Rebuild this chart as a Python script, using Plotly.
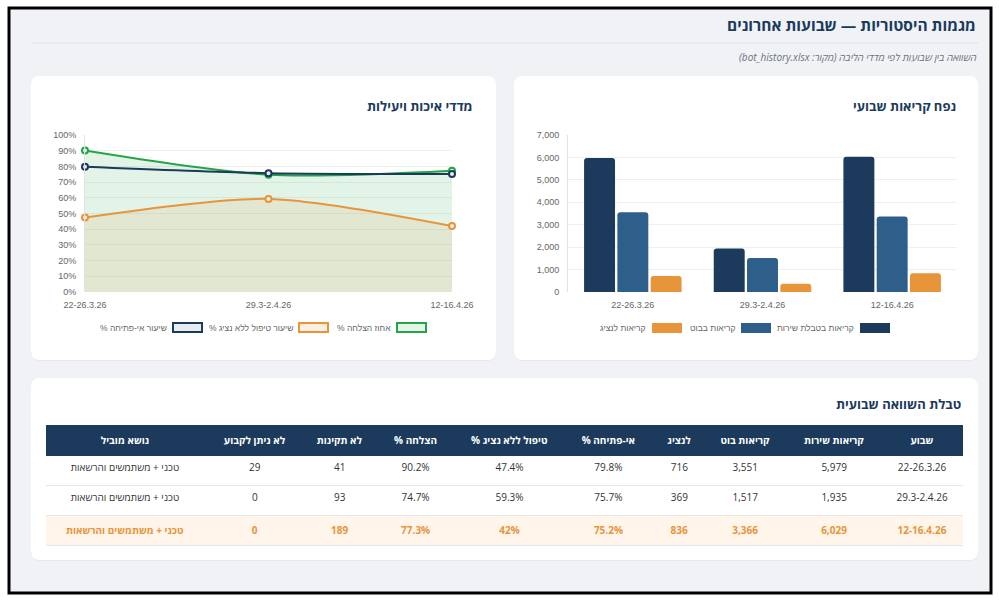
import plotly.graph_objects as go

W, H = 999, 603

# ---------------- data ----------------
weeks = ["22-26.3.26", "29.3-2.4.26", "12-16.4.26"]

success_pct = [90.2, 74.7, 77.3]          # אחוז הצלחה %
no_agent_pct = [47.4, 59.3, 42.0]         # שיעור טיפול ללא נציג %
no_open_pct = [79.8, 75.7, 75.2]          # שיעור אי-פתיחה %

service_calls = [5979, 1935, 6029]        # קריאות בטבלת שירות
bot_calls = [3551, 1517, 3366]            # קריאות בבוט
agent_calls = [716, 369, 836]             # קריאות לנציג

not_valid = [41, 93, 189]                 # לא תקינות
undetermined = [29, 0, 0]                 # לא ניתן לקבוע
lead_topic = ["טכני + משתמשים והרשאות"] * 3

line_names = ["אחוז הצלחה %", "שיעור טיפול ללא נציג %", "שיעור אי-פתיחה %"]
bar_names = ["קריאות בטבלת שירות", "קריאות בבוט", "קריאות לנציג"]
table_headers = ["שבוע", "קריאות שירות", "קריאות בוט", "לנציג", "אי-פתיחה %",
                 "טיפול ללא נציג %", "הצלחה %", "לא תקינות", "לא ניתן לקבוע", "נושא מוביל"]

NAVY = "#1b3a5c"
BLUE = "#2e5f8a"
ORANGE = "#e8943a"
GREEN = "#22a447"
FONT = "Open Sans, Liberation Sans, DejaVu Sans, sans-serif"
CHART_FONT = "Liberation Sans, Arial, sans-serif"


def rtl(s):
    return "\u202b" + s + "\u202c"


def px(x):
    return x / W


def py(y):
    return 1 - y / H


def rrect(x0, y0, x1, y1, r):
    pts = lambda x, y: f"{px(x):.5f},{py(y):.5f}"
    return (f"M {pts(x0 + r, y0)} L {pts(x1 - r, y0)} Q {pts(x1, y0)} {pts(x1, y0 + r)} "
            f"L {pts(x1, y1 - r)} Q {pts(x1, y1)} {pts(x1 - r, y1)} "
            f"L {pts(x0 + r, y1)} Q {pts(x0, y1)} {pts(x0, y1 - r)} "
            f"L {pts(x0, y0 + r)} Q {pts(x0, y0)} {pts(x0 + r, y0)} Z")


fig = go.Figure()

# ---------------- line chart ----------------
line_cfg = [
    (success_pct, GREEN, "rgba(34,164,71,0.13)", "tozeroy", "#e3f4e8"),
    (no_agent_pct, ORANGE, "rgba(232,148,58,0.12)", "tozeroy", "#fdf0e2"),
    (no_open_pct, NAVY, None, "none", "#e8ebf0"),
]
for (vals, col, fillc, fill, mfill), name in zip(line_cfg, line_names):
    fig.add_trace(go.Scatter(
        x=weeks, y=vals, name=name, mode="lines+markers",
        line=dict(color=col, width=2, shape="spline", smoothing=0.8),
        marker=dict(size=6, color=mfill, line=dict(color=col, width=2)),
        fill=fill, fillcolor=fillc, cliponaxis=False, showlegend=False,
        xaxis="x", yaxis="y", hoverinfo="skip"))

# ---------------- bar chart ----------------
for vals, col, name in zip([service_calls, bot_calls, agent_calls], [NAVY, BLUE, ORANGE], bar_names):
    fig.add_trace(go.Bar(x=weeks, y=vals, name=name, marker=dict(color=col, line=dict(width=0)),
                         showlegend=False, xaxis="x2", yaxis="y2", hoverinfo="skip"))

# ---------------- table ----------------
def fmt_int(v):
    return f"{v:,}"


def fmt_pct(v):
    s = f"{v:.1f}"
    if s.endswith(".0"):
        s = s[:-2]
    return s + "%"


cols_rtl = [
    weeks,
    [fmt_int(v) for v in service_calls],
    [fmt_int(v) for v in bot_calls],
    [fmt_int(v) for v in agent_calls],
    [fmt_pct(v) for v in no_open_pct],
    [fmt_pct(v) for v in no_agent_pct],
    [fmt_pct(v) for v in success_pct],
    [str(v) for v in not_valid],
    [str(v) for v in undetermined],
    [rtl(t) for t in lead_topic],
]
# highlight last row
cols_rtl = [[c[0], c[1], "<b>" + c[2] + "</b>"] for c in cols_rtl]
widths_rtl = [82, 94, 84, 48, 94, 104, 84, 68, 102, 158]

cols_ltr = cols_rtl[::-1]
headers_ltr = ["<b>" + rtl(h) + "</b>" for h in table_headers[::-1]]
widths_ltr = widths_rtl[::-1]
ncol = len(cols_ltr)
row_fill = ["#ffffff", "#ffffff", "#fff5ea"]
row_font = ["#333333", "#333333", ORANGE]

fig.add_trace(go.Table(
    domain=dict(x=[px(46), px(963)], y=[py(546), py(425)]),
    columnwidth=widths_ltr,
    header=dict(values=headers_ltr, fill_color=NAVY, line=dict(color=NAVY, width=1),
                font=dict(color="white", size=10, family=FONT), align="center", height=30),
    cells=dict(values=cols_ltr, fill_color=[row_fill] * ncol,
               line=dict(color=[row_fill] * ncol, width=1),
               font=dict(color=[row_font] * ncol, size=10, family=FONT),
               align="center", height=30),
))

shapes = []
# outer frame & background
shapes.append(dict(type="rect", xref="paper", yref="paper", x0=px(9), x1=px(991), y0=py(593), y1=py(8),
                   fillcolor="#f0f2f6", line=dict(color="black", width=3), layer="below"))
# cards
for (x0, y0, x1, y1) in [(31, 76, 496, 360), (514, 76, 978, 360), (31, 378, 978, 560)]:
    shapes.append(dict(type="path", xref="paper", yref="paper", path=rrect(x0, y0 + 1, x1, y1 + 1, 9),
                       fillcolor="#e6e8ee", line=dict(width=0), layer="below"))
    shapes.append(dict(type="path", xref="paper", yref="paper", path=rrect(x0, y0, x1, y1, 9),
                       fillcolor="white", line=dict(width=0), layer="below"))
# divider under title
shapes.append(dict(type="line", xref="paper", yref="paper", x0=px(31), x1=px(978), y0=py(43), y1=py(43),
                   line=dict(color="#dfe2e8", width=1), layer="below"))
# table row separators
for yy in [485.5, 515.5, 545.5]:
    shapes.append(dict(type="line", xref="paper", yref="paper", x0=px(46), x1=px(963), y0=py(yy), y1=py(yy),
                       line=dict(color="#e4e7ec", width=1), layer="above"))

annotations = []
annotations.append(dict(text="<b>" + rtl("מגמות היסטוריות — שבועות אחרונים") + "</b>", x=px(978), y=py(25),
                        xref="paper", yref="paper", xanchor="right", yanchor="middle", showarrow=False,
                        font=dict(size=15.5, color=NAVY, family=FONT)))
annotations.append(dict(text="<i>" + rtl("השוואה בין שבועות לפי מדדי הליבה (מקור: bot_history.xlsx)") + "</i>",
                        x=px(979), y=py(57), xref="paper", yref="paper", xanchor="right", yanchor="middle",
                        showarrow=False, font=dict(size=10, color="#6b7280", family=FONT)))
for txt, xr, yy in [("מדדי איכות ויעילות", 475, 106), ("נפח קריאות שבועי", 958, 106),
                    ("טבלת השוואה שבועית", 963, 404)]:
    annotations.append(dict(text="<b>" + rtl(txt) + "</b>", x=px(xr), y=py(yy), xref="paper", yref="paper",
                            xanchor="right", yanchor="middle", showarrow=False,
                            font=dict(size=13, color=NAVY, family=FONT)))

# custom legends (RTL: box at right of its label)
left_leg = [(396, GREEN, "#e3f4e8", line_names[0]), (298, ORANGE, "#fdf0e2", line_names[1]),
            (172, NAVY, "#e8ebf0", line_names[2])]
for x0, col, fc, name in left_leg:
    shapes.append(dict(type="rect", xref="paper", yref="paper", x0=px(x0 + 1), x1=px(x0 + 30),
                       y0=py(332), y1=py(323), fillcolor=fc, line=dict(color=col, width=2)))
    annotations.append(dict(text=rtl(name), x=px(x0 - 3), y=py(327.5), xref="paper", yref="paper",
                            xanchor="right", yanchor="middle", showarrow=False,
                            font=dict(size=8.5, color="#666666", family=CHART_FONT)))
right_leg = [(860, NAVY, bar_names[0]), (741, BLUE, bar_names[1]), (652, ORANGE, bar_names[2])]
for x0, col, name in right_leg:
    shapes.append(dict(type="rect", xref="paper", yref="paper", x0=px(x0), x1=px(x0 + 30),
                       y0=py(333), y1=py(323), fillcolor=col, line=dict(width=0)))
    annotations.append(dict(text=rtl(name), x=px(x0 - 4), y=py(327.5), xref="paper", yref="paper",
                            xanchor="right", yanchor="middle", showarrow=False,
                            font=dict(size=8.5, color="#666666", family=CHART_FONT)))

tickfont = dict(size=9, color="#666666", family=CHART_FONT)
common = dict(automargin=False, fixedrange=True, zeroline=False, tickfont=tickfont, ticklabelstandoff=6)
fig.update_layout(
    width=W, height=H, margin=dict(l=0, r=0, t=0, b=0, pad=0, autoexpand=False),
    paper_bgcolor="white", plot_bgcolor="rgba(0,0,0,0)",
    barmode="group", bargap=0.23, bargroupgap=0.07, barcornerradius=3,
    shapes=shapes, annotations=annotations, showlegend=False,
    font=dict(family=FONT),
    xaxis=dict(domain=[px(85), px(452)], anchor="y", type="category", range=[0, 2],
               showgrid=False, showline=False, **common),
    yaxis=dict(domain=[py(292), py(135)], anchor="x", range=[0, 100], dtick=10, ticksuffix="%",
               showgrid=True, gridcolor="#efefef", showline=True, linecolor="#e3e3e3", **common),
    xaxis2=dict(domain=[px(568), px(957)], anchor="y2", type="category",
                showgrid=False, showline=False, **common),
    yaxis2=dict(domain=[py(292), py(135)], anchor="x2", range=[0, 7000], dtick=1000, tickformat=",",
                showgrid=True, gridcolor="#efefef", showline=True, linecolor="#e3e3e3", **common),
)

fig.write_html("out.html")
